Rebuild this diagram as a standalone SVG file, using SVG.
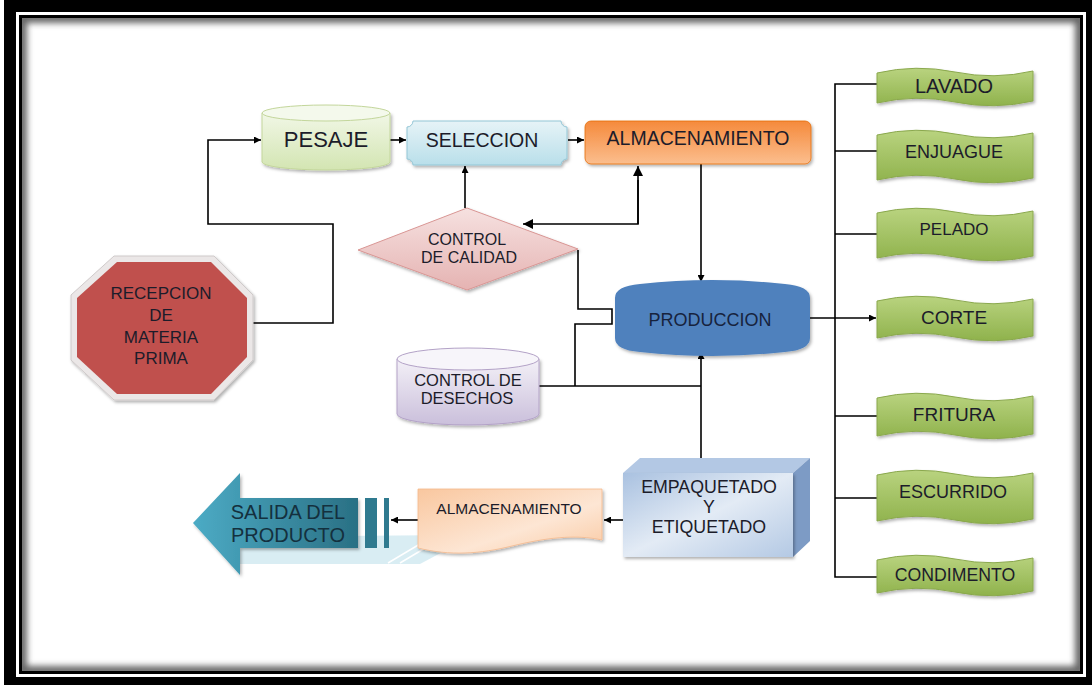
<svg xmlns="http://www.w3.org/2000/svg" width="1092" height="685" viewBox="0 0 1092 685">
<style>
text{font-family:"Liberation Sans",Arial,sans-serif;fill:#1c1c2a;text-anchor:middle;dominant-baseline:central}
.con{fill:none;stroke:#000;stroke-width:1.6}
.grn{fill:url(#gGreen);stroke:#8aa84d;stroke-width:1;filter:url(#sh)}
</style>
<defs>
<marker id="ah" viewBox="0 0 10 10" refX="10" refY="5" markerWidth="7" markerHeight="7" orient="auto" markerUnits="userSpaceOnUse">
<path d="M0,0 L10,5 L0,10 Z" fill="#000"/>
</marker>
<marker id="ah2" viewBox="0 0 10 10" refX="10" refY="5" markerWidth="12" markerHeight="10" orient="auto" markerUnits="userSpaceOnUse">
<path d="M0,0 L10,5 L0,10 Z" fill="#000"/>
</marker>
<filter id="sh" x="-10%" y="-10%" width="130%" height="140%">
<feDropShadow dx="1.5" dy="2" stdDeviation="1.5" flood-color="#000" flood-opacity="0.3"/>
</filter>
<filter id="blur"><feGaussianBlur stdDeviation="3"/></filter>
<clipPath id="inner"><rect x="22" y="18" width="1058" height="653"/></clipPath>
<linearGradient id="gGreen" x1="0" y1="0" x2="0" y2="1"><stop offset="0" stop-color="#b9d37f"/><stop offset="1" stop-color="#8fb24c"/></linearGradient>
<linearGradient id="gPes" x1="0" y1="0" x2="0" y2="1"><stop offset="0" stop-color="#f1f7e6"/><stop offset="1" stop-color="#d3e5b2"/></linearGradient>
<linearGradient id="gSel" x1="0" y1="0" x2="0" y2="1"><stop offset="0" stop-color="#e6f3f7"/><stop offset="1" stop-color="#b9dfea"/></linearGradient>
<linearGradient id="gAlm" x1="0" y1="0" x2="0" y2="1"><stop offset="0" stop-color="#f58a3c"/><stop offset="1" stop-color="#fbbe8e"/></linearGradient>
<linearGradient id="gCal" x1="0" y1="0" x2="0" y2="1"><stop offset="0" stop-color="#f6e1e0"/><stop offset="1" stop-color="#e5b3b2"/></linearGradient>
<linearGradient id="gDes" x1="0" y1="0" x2="0" y2="1"><stop offset="0" stop-color="#f3f0f7"/><stop offset="1" stop-color="#cabfdb"/></linearGradient>
<linearGradient id="gEmp" x1="0" y1="0" x2="1" y2="1"><stop offset="0" stop-color="#a9c1e0"/><stop offset="0.5" stop-color="#e3ebf5"/><stop offset="1" stop-color="#b4c9e4"/></linearGradient>
<linearGradient id="gAlm2" x1="0" y1="0" x2="1" y2="1"><stop offset="0" stop-color="#f9c79f"/><stop offset="0.6" stop-color="#fde6d4"/><stop offset="1" stop-color="#f9c9a2"/></linearGradient>
<linearGradient id="gSal" x1="0" y1="0" x2="1" y2="0"><stop offset="0" stop-color="#4cabc5"/><stop offset="1" stop-color="#2a7084"/></linearGradient>
</defs>

<!-- frame -->
<rect x="0" y="0" width="1092" height="685" fill="#fff"/>
<rect x="4" y="0" width="1088" height="685" fill="#000"/>
<rect x="16" y="12" width="1070" height="665" fill="#fff"/>
<rect x="19" y="15" width="1064" height="659" fill="#000"/>
<rect x="22" y="18" width="1058" height="653" fill="#fff"/>
<rect x="22" y="18" width="1058" height="653" fill="none" stroke="#666" stroke-width="10" filter="url(#blur)" clip-path="url(#inner)"/>

<!-- connectors -->
<g id="connectors">
<path class="con" d="M249,323 H333 V224 H208 V140 H261" marker-end="url(#ah)"/>
<path class="con" d="M390,140 H406" marker-end="url(#ah)"/>
<path class="con" d="M568,140 H584" marker-end="url(#ah)"/>
<path class="con" d="M465,208 V166" marker-end="url(#ah)"/>
<path class="con" d="M638,180 V224 H523" marker-end="url(#ah2)"/>
<path class="con" d="M638,224 V166" marker-end="url(#ah2)"/>
<path class="con" d="M701,164 V282" marker-end="url(#ah)"/>
<path class="con" d="M578,250 V309 H612 V324 H575 V386"/>
<path class="con" d="M539,386 H701"/>
<path class="con" d="M701,470 V352" marker-end="url(#ah)"/>
<path class="con" d="M810,318 H876" marker-end="url(#ah)"/>
<path class="con" d="M877,84 H835 V577 H877"/>
<path class="con" d="M835,151 H877 M835,234 H877 M835,416 H877 M835,498 H877"/>
<path class="con" d="M626,520 H604" marker-end="url(#ah)"/>
<path class="con" d="M418,520 H391" marker-end="url(#ah)"/>
</g>

<g id="recepcion">
<polygon points="114,256 214,256 253,295 253,360 214,400 114,400 71,360 71,295" fill="#ebe7e7" stroke="#cfcaca" filter="url(#sh)"/>
<polygon points="117,262 211,262 247,298 247,357 211,394 117,394 77,357 77,298" fill="#c0504d"/>
<text x="161" y="293" font-size="17">RECEPCION</text>
<text x="161" y="315" font-size="17">DE</text>
<text x="161" y="337" font-size="17">MATERIA</text>
<text x="161" y="358" font-size="17">PRIMA</text>
</g>

<g id="pesaje">
<path d="M262,113 V162 A64,8 0 0 0 390,162 V113 Z" fill="url(#gPes)" stroke="#c3d69b" filter="url(#sh)"/>
<ellipse cx="326" cy="113" rx="64" ry="8" fill="#f4f9ec" stroke="#c3d69b"/>
<text x="326" y="139" font-size="22">PESAJE</text>
</g>

<g id="seleccion">
<path d="M413,121 L561,121 A6,6 0 0 0 567,127 L567,159 A6,6 0 0 0 561,165 L413,165 A6,6 0 0 0 407,159 L407,127 A6,6 0 0 0 413,121 Z" fill="url(#gSel)" stroke="#93c6d6" filter="url(#sh)"/>
<text x="482" y="140" font-size="19.5">SELECCION</text>
</g>

<g id="almacenamiento1">
<rect x="585" y="121" width="226" height="43" rx="6" fill="url(#gAlm)" stroke="#e46c0a" stroke-width="0.8" filter="url(#sh)"/>
<text x="698" y="138" font-size="19.5">ALMACENAMIENTO</text>
</g>

<g id="calidad">
<polygon points="358,250 467,208 578,249 467,290" fill="url(#gCal)" stroke="#d99694" filter="url(#sh)"/>
<text x="467" y="239" font-size="16">CONTROL</text>
<text x="469" y="257" font-size="16">DE CALIDAD</text>
</g>

<g id="produccion">
<path d="M615,298 Q615,286 640,284 Q712,276 785,284 Q810,286 810,298 L810,338 Q810,350 785,352 Q712,360 640,352 Q615,350 615,338 Z" fill="#4f81bd" filter="url(#sh)"/>
<text x="710" y="320" font-size="18" style="fill:#17233d">PRODUCCION</text>
</g>

<g id="desechos">
<path d="M397,359 V414 A71,11 0 0 0 539,414 V359 Z" fill="url(#gDes)" stroke="#b3a2c7" filter="url(#sh)"/>
<ellipse cx="468" cy="359" rx="71" ry="11" fill="#f7f5fa" stroke="#b3a2c7"/>
<text x="468" y="380" font-size="16.5">CONTROL DE</text>
<text x="467" y="398" font-size="16.5">DESECHOS</text>
</g>

<g id="empaquetado">
<polygon points="623,473 640,458 810,458 793,473" fill="#b3c8e4"/>
<polygon points="793,473 810,458 810,541 793,557" fill="#7d9bc5"/>
<rect x="623" y="473" width="170" height="84" fill="url(#gEmp)" filter="url(#sh)"/>
<text x="709" y="487" font-size="17.8">EMPAQUETADO</text>
<text x="709" y="507" font-size="17.8">Y</text>
<text x="709" y="527" font-size="17.8">ETIQUETADO</text>
</g>

<g id="salida">
<polygon points="240,537 455,535 465,540 420,564 240,564" fill="#cfe9f0" opacity="0.8"/>
<path d="M388,563 L430,538 M400,563 L442,538" stroke="#fff" stroke-width="1.5"/>
<polygon points="193,523 240,473 240,498 358,498 358,548 240,548 240,575" fill="url(#gSal)" filter="url(#sh)"/>
<rect x="365" y="498" width="12" height="50" fill="#2f7a8f"/>
<rect x="384" y="498" width="5" height="50" fill="#2f7a8f"/>
<text x="288" y="512" font-size="20" style="fill:#14303e">SALIDA DEL</text>
<text x="288" y="535" font-size="20" style="fill:#14303e">PRODUCTO</text>
</g>

<g id="almacenamiento2">
<path d="M418,489 L602,489 L602,540 C575,534 545,538 512,546 C480,554 450,556 418,548 Z" fill="url(#gAlm2)" stroke="#f6b98c" stroke-width="0.8" filter="url(#sh)"/>
<text x="509" y="508" font-size="15.5">ALMACENAMIENTO</text>
</g>

<g id="lavado"><path class="grn" d="M877,73 Q916,64 955,72 T1033,71 L1033,101 Q994,110 955,102 T877,103 Z"/><text x="954" y="86" font-size="20">LAVADO</text></g>
<g id="enjuague"><path class="grn" d="M877,135 Q916,126 955,134 T1033,133 L1033,178 Q994,187 955,179 T877,180 Z"/><text x="954" y="152" font-size="18">ENJUAGUE</text></g>
<g id="pelado"><path class="grn" d="M877,213 Q916,204 955,212 T1033,211 L1033,256 Q994,265 955,257 T877,258 Z"/><text x="954" y="229" font-size="17">PELADO</text></g>
<g id="corte"><path class="grn" d="M877,301 Q916,292 955,300 T1033,299 L1033,336 Q994,345 955,337 T877,338 Z"/><text x="954" y="317" font-size="19">CORTE</text></g>
<g id="fritura"><path class="grn" d="M877,398 Q916,389 955,397 T1033,396 L1033,434 Q994,443 955,435 T877,436 Z"/><text x="954" y="414" font-size="19">FRITURA</text></g>
<g id="escurrido"><path class="grn" d="M877,475 Q916,466 955,474 T1033,473 L1033,519 Q994,528 955,520 T877,521 Z"/><text x="953" y="492" font-size="18">ESCURRIDO</text></g>
<g id="condimento"><path class="grn" d="M877,560 Q916,551 955,559 T1033,558 L1033,591 Q994,600 955,592 T877,593 Z"/><text x="955" y="575" font-size="17.7">CONDIMENTO</text></g>
</svg>
